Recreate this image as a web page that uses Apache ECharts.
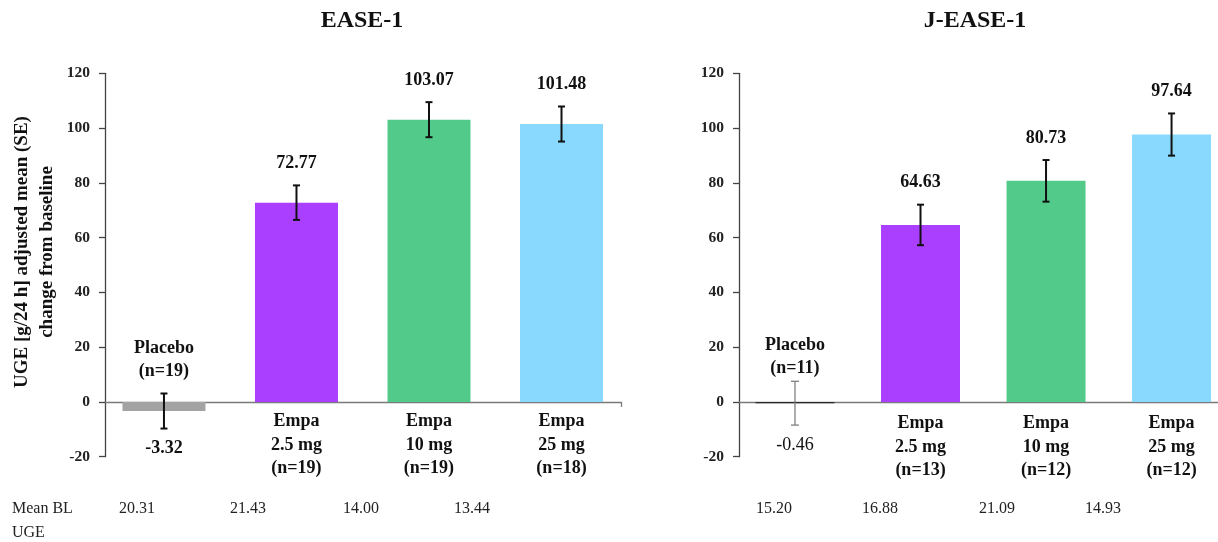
<!DOCTYPE html>
<html>
<head>
<meta charset="utf-8">
<script src="https://cdn.jsdelivr.net/npm/echarts@6/dist/echarts.min.js"></script>
<style>
html,body{margin:0;padding:0;background:#fff;}
#chart{width:1218px;height:542px;}
</style>
</head>
<body>
<div id="chart"></div>
<script>
// ---------- data ----------
const titles = ['EASE-1', 'J-EASE-1'];
const yTitle = 'UGE [g/24 h] adjusted mean (SE)\nchange from baseline';
const yMin = -20, yMax = 120, yInterval = 20;

const catsEASE = ['Placebo\n(n=19)', 'Empa\n2.5 mg\n(n=19)', 'Empa\n10 mg\n(n=19)', 'Empa\n25 mg\n(n=18)'];
const meanEASE = [-3.32, 72.77, 103.07, 101.48];
const seEASE = [6.4, 6.3, 6.4, 6.4];
const blEASE = ['20.31', '21.43', '14.00', '13.44'];

const catsJ = ['Placebo\n(n=11)', 'Empa\n2.5 mg\n(n=13)', 'Empa\n10 mg\n(n=12)', 'Empa\n25 mg\n(n=12)'];
const meanJ = [-0.46, 64.63, 80.73, 97.64];
const seJ = [8.0, 7.4, 7.6, 7.7];
const blJ = ['15.20', '16.88', '21.09', '14.93'];

const blLabel = 'Mean BL\nUGE';

// ---------- styles ----------
const SERIF = '"Liberation Serif", "Times New Roman", serif';
const colorsEASE = ['#a3a3a3', '#ab3fff', '#52ca8a', '#88d9fd'];
const colorsJ = ['#2a2a2a', '#ab3fff', '#52ca8a', '#88d9fd'];

function barData(means, colors) {
  return means.map((v, i) => ({ value: [i, v], itemStyle: { color: colors[i] } }));
}

function errData(means, ses) {
  return means.map((v, i) => [i, v, v - ses[i], v + ses[i]]);
}

function makeErrSeries(idx, means, ses, cats, opts) {
  return {
    type: 'custom',
    xAxisIndex: idx, yAxisIndex: idx,
    clip: false,
    z: 5,
    data: errData(means, ses),
    encode: { x: 0, y: [1, 2, 3] },
    renderItem: function (params, api) {
      const i = api.value(0);
      const mean = api.value(1);
      const lo = api.coord([i, api.value(2)]);
      const hi = api.coord([i, api.value(3)]);
      const zero = api.coord([i, 0]);
      const thin = opts.thin && i === 0;
      const stroke = thin ? '#777' : '#111';
      const lw = thin ? 1.2 : 2;
      const cap = thin ? 4 : 3.5;
      const children = [
        { type: 'line', shape: { x1: hi[0], y1: hi[1], x2: lo[0], y2: lo[1] }, style: { stroke: stroke, lineWidth: lw } },
        { type: 'line', shape: { x1: hi[0] - cap, y1: hi[1], x2: hi[0] + cap, y2: hi[1] }, style: { stroke: stroke, lineWidth: lw } },
        { type: 'line', shape: { x1: lo[0] - cap, y1: lo[1], x2: lo[0] + cap, y2: lo[1] }, style: { stroke: stroke, lineWidth: lw } }
      ];
      const txt = mean.toFixed(2);
      const neg = mean < 0;
      const bold = !(opts.plainPlacebo && i === 0);
      children.push({
        type: 'text',
        style: {
          text: txt,
          x: hi[0],
          y: neg ? lo[1] + 20 : hi[1] - 22,
          textAlign: 'center', textVerticalAlign: 'middle',
          fontFamily: SERIF, fontSize: 18, fontWeight: bold ? 'bold' : 'normal',
          fill: '#111'
        }
      });
      const c = cats[i];
      children.push({
        type: 'text',
        style: {
          text: c,
          x: zero[0],
          y: neg ? zero[1] - opts.catUp : zero[1] + opts.catDown,
          textAlign: 'center', textVerticalAlign: 'middle',
          fontFamily: SERIF, fontSize: 18, fontWeight: 'bold', lineHeight: 23.5,
          fill: '#111'
        }
      });
      return { type: 'group', children: children };
    }
  };
}

function yAxisCfg(idx) {
  return {
    type: 'value', gridIndex: idx,
    min: yMin, max: yMax, interval: yInterval,
    axisLine: { show: true, onZero: false, lineStyle: { color: '#444', width: 1.3 } },
    axisTick: { show: true, inside: false, length: 6, lineStyle: { color: '#444', width: 1.3 } },
    axisLabel: { fontFamily: SERIF, fontSize: 15.5, fontWeight: 'bold', color: '#222', margin: 15 },
    splitLine: { show: false }
  };
}

function xAxisCfg(idx, min, max) {
  return {
    type: 'value', gridIndex: idx,
    min: min, max: max,
    axisLine: { show: true, onZero: true, lineStyle: { color: '#7a7a7a', width: 1.3 } },
    axisTick: { show: idx === 0, customValues: [max], length: 5, inside: false, lineStyle: { color: '#7a7a7a', width: 1.3 } },
    axisLabel: { show: false },
    splitLine: { show: false }
  };
}

const chart = echarts.init(document.getElementById('chart'), null, { renderer: 'canvas' });

const gridTop = 73.3, gridH = 383.4;

const graphics = [];
graphics.push({
  type: 'text', x: 34.5, y: 252, rotation: Math.PI / 2,
  style: { text: yTitle, x: 0, y: 0, textAlign: 'center', textVerticalAlign: 'middle',
    fontFamily: SERIF, fontSize: 19, fontWeight: 'bold', lineHeight: 25, fill: '#111' }
});
graphics.push({
  type: 'text', x: 12, y: 521,
  style: { text: blLabel, x: 0, y: 0, textAlign: 'left', textVerticalAlign: 'middle',
    fontFamily: SERIF, fontSize: 16, lineHeight: 24, fill: '#222' }
});
const blPosL = [137, 248, 361, 472];
const blPosR = [774, 880, 997, 1103];
blEASE.forEach((t, i) => graphics.push({
  type: 'text', x: blPosL[i], y: 509,
  style: { text: t, x: 0, y: 0, textAlign: 'center', textVerticalAlign: 'middle', fontFamily: SERIF, fontSize: 16, fill: '#222' }
}));
blJ.forEach((t, i) => graphics.push({
  type: 'text', x: blPosR[i], y: 509,
  style: { text: t, x: 0, y: 0, textAlign: 'center', textVerticalAlign: 'middle', fontFamily: SERIF, fontSize: 16, fill: '#222' }
}));

const option = {
  backgroundColor: '#ffffff',
  animation: false,
  title: [
    { text: titles[0], left: 357, top: 4, textAlign: 'center',
      textStyle: { fontFamily: SERIF, fontSize: 24, fontWeight: 'bold', color: '#111' } },
    { text: titles[1], left: 970, top: 4, textAlign: 'center',
      textStyle: { fontFamily: SERIF, fontSize: 24, fontWeight: 'bold', color: '#111' } }
  ],
  grid: [
    { left: 105, width: 516, top: gridTop, height: gridH },
    { left: 739, width: 479, top: gridTop, height: gridH }
  ],
  xAxis: [xAxisCfg(0, -0.445, 3.449), xAxisCfg(1, -0.446, 3.37)],
  yAxis: [yAxisCfg(0), yAxisCfg(1)],
  series: [
    { type: 'bar', xAxisIndex: 0, yAxisIndex: 0, barWidth: 83, data: barData(meanEASE, colorsEASE), z: 2 },
    { type: 'bar', xAxisIndex: 1, yAxisIndex: 1, barWidth: 79, data: barData(meanJ, colorsJ), z: 2 },
    makeErrSeries(0, meanEASE, seEASE, catsEASE, { catUp: 42, catDown: 43, thin: false, plainPlacebo: false }),
    makeErrSeries(1, meanJ, seJ, catsJ, { catUp: 45, catDown: 45, thin: true, plainPlacebo: true })
  ],
  graphic: graphics
};
chart.setOption(option);
</script>
</body>
</html>
